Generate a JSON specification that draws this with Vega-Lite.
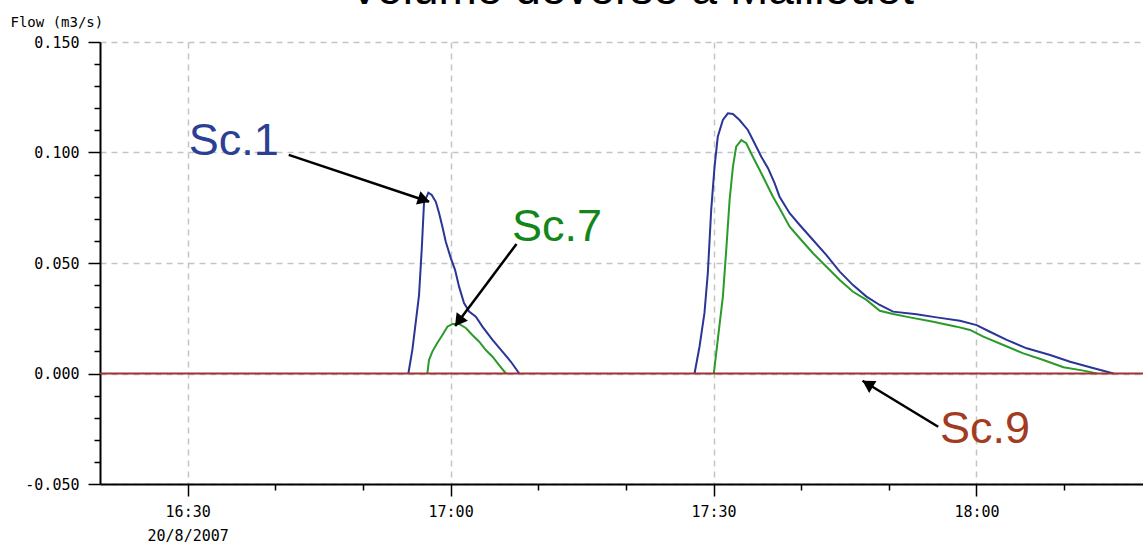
{
  "$schema": "https://vega.github.io/schema/vega-lite/v6.json",
  "width": 1043,
  "height": 442,
  "autosize": {"type": "none"},
  "padding": {"left": 100, "top": 42, "right": 0, "bottom": 62},
  "background": "white",
  "title": {"text": "Volume déversé à Maillouet", "font": "Liberation Sans", "fontSize": 46, "fontWeight": "normal", "color": "#000000", "anchor": "middle", "baseline": "alphabetic", "offset": -21, "dy": 14, "dx": 10},
  "config": {"view": {"stroke": null}},
  "datasets": {
    "flowdata": [
      {"t": "2007-08-20T16:55:11", "q": 0, "s": "Sc.1", "e": 1},
      {"t": "2007-08-20T16:55:38", "q": 0.0106, "s": "Sc.1", "e": 1},
      {"t": "2007-08-20T16:56:01", "q": 0.0229, "s": "Sc.1", "e": 1},
      {"t": "2007-08-20T16:56:24", "q": 0.0355, "s": "Sc.1", "e": 1},
      {"t": "2007-08-20T16:56:43", "q": 0.0568, "s": "Sc.1", "e": 1},
      {"t": "2007-08-20T16:56:58", "q": 0.0772, "s": "Sc.1", "e": 1},
      {"t": "2007-08-20T16:57:28", "q": 0.0818, "s": "Sc.1", "e": 1},
      {"t": "2007-08-20T16:57:51", "q": 0.0808, "s": "Sc.1", "e": 1},
      {"t": "2007-08-20T16:58:19", "q": 0.0777, "s": "Sc.1", "e": 1},
      {"t": "2007-08-20T16:58:41", "q": 0.0726, "s": "Sc.1", "e": 1},
      {"t": "2007-08-20T16:59:04", "q": 0.0664, "s": "Sc.1", "e": 1},
      {"t": "2007-08-20T16:59:27", "q": 0.0596, "s": "Sc.1", "e": 1},
      {"t": "2007-08-20T17:00:01", "q": 0.0523, "s": "Sc.1", "e": 1},
      {"t": "2007-08-20T17:00:31", "q": 0.0468, "s": "Sc.1", "e": 1},
      {"t": "2007-08-20T17:00:58", "q": 0.0393, "s": "Sc.1", "e": 1},
      {"t": "2007-08-20T17:01:32", "q": 0.0319, "s": "Sc.1", "e": 1},
      {"t": "2007-08-20T17:02:07", "q": 0.0280, "s": "Sc.1", "e": 1},
      {"t": "2007-08-20T17:02:53", "q": 0.0257, "s": "Sc.1", "e": 1},
      {"t": "2007-08-20T17:03:38", "q": 0.0212, "s": "Sc.1", "e": 1},
      {"t": "2007-08-20T17:04:47", "q": 0.0152, "s": "Sc.1", "e": 1},
      {"t": "2007-08-20T17:05:55", "q": 0.0099, "s": "Sc.1", "e": 1},
      {"t": "2007-08-20T17:06:53", "q": 0.0053, "s": "Sc.1", "e": 1},
      {"t": "2007-08-20T17:07:50", "q": 0, "s": "Sc.1", "e": 1},
      {"t": "2007-08-20T17:27:50", "q": 0, "s": "Sc.1", "e": 2},
      {"t": "2007-08-20T17:28:24", "q": 0.0121, "s": "Sc.1", "e": 2},
      {"t": "2007-08-20T17:28:58", "q": 0.0274, "s": "Sc.1", "e": 2},
      {"t": "2007-08-20T17:29:21", "q": 0.0455, "s": "Sc.1", "e": 2},
      {"t": "2007-08-20T17:29:44", "q": 0.0740, "s": "Sc.1", "e": 2},
      {"t": "2007-08-20T17:30:07", "q": 0.0936, "s": "Sc.1", "e": 2},
      {"t": "2007-08-20T17:30:29", "q": 0.1071, "s": "Sc.1", "e": 2},
      {"t": "2007-08-20T17:31:04", "q": 0.1147, "s": "Sc.1", "e": 2},
      {"t": "2007-08-20T17:31:38", "q": 0.1177, "s": "Sc.1", "e": 2},
      {"t": "2007-08-20T17:32:13", "q": 0.1174, "s": "Sc.1", "e": 2},
      {"t": "2007-08-20T17:32:58", "q": 0.1147, "s": "Sc.1", "e": 2},
      {"t": "2007-08-20T17:33:55", "q": 0.1102, "s": "Sc.1", "e": 2},
      {"t": "2007-08-20T17:34:41", "q": 0.1042, "s": "Sc.1", "e": 2},
      {"t": "2007-08-20T17:35:27", "q": 0.0981, "s": "Sc.1", "e": 2},
      {"t": "2007-08-20T17:36:13", "q": 0.0929, "s": "Sc.1", "e": 2},
      {"t": "2007-08-20T17:36:58", "q": 0.0861, "s": "Sc.1", "e": 2},
      {"t": "2007-08-20T17:37:32", "q": 0.0800, "s": "Sc.1", "e": 2},
      {"t": "2007-08-20T17:38:41", "q": 0.0725, "s": "Sc.1", "e": 2},
      {"t": "2007-08-20T17:39:50", "q": 0.0672, "s": "Sc.1", "e": 2},
      {"t": "2007-08-20T17:41:21", "q": 0.0604, "s": "Sc.1", "e": 2},
      {"t": "2007-08-20T17:42:53", "q": 0.0536, "s": "Sc.1", "e": 2},
      {"t": "2007-08-20T17:44:24", "q": 0.0461, "s": "Sc.1", "e": 2},
      {"t": "2007-08-20T17:45:55", "q": 0.0400, "s": "Sc.1", "e": 2},
      {"t": "2007-08-20T17:47:27", "q": 0.0348, "s": "Sc.1", "e": 2},
      {"t": "2007-08-20T17:48:58", "q": 0.0310, "s": "Sc.1", "e": 2},
      {"t": "2007-08-20T17:50:29", "q": 0.0280, "s": "Sc.1", "e": 2},
      {"t": "2007-08-20T17:53:10", "q": 0.0268, "s": "Sc.1", "e": 2},
      {"t": "2007-08-20T17:55:27", "q": 0.0254, "s": "Sc.1", "e": 2},
      {"t": "2007-08-20T17:58:07", "q": 0.0239, "s": "Sc.1", "e": 2},
      {"t": "2007-08-20T18:00:01", "q": 0.0219, "s": "Sc.1", "e": 2},
      {"t": "2007-08-20T18:01:32", "q": 0.0189, "s": "Sc.1", "e": 2},
      {"t": "2007-08-20T18:03:27", "q": 0.0152, "s": "Sc.1", "e": 2},
      {"t": "2007-08-20T18:05:44", "q": 0.0114, "s": "Sc.1", "e": 2},
      {"t": "2007-08-20T18:08:24", "q": 0.0084, "s": "Sc.1", "e": 2},
      {"t": "2007-08-20T18:10:41", "q": 0.0053, "s": "Sc.1", "e": 2},
      {"t": "2007-08-20T18:12:58", "q": 0.0028, "s": "Sc.1", "e": 2},
      {"t": "2007-08-20T18:15:38", "q": 0, "s": "Sc.1", "e": 2},
      {"t": "2007-08-20T16:57:21", "q": 0, "s": "Sc.7", "e": 1},
      {"t": "2007-08-20T16:57:32", "q": 0.0061, "s": "Sc.7", "e": 1},
      {"t": "2007-08-20T16:57:55", "q": 0.0099, "s": "Sc.7", "e": 1},
      {"t": "2007-08-20T16:58:29", "q": 0.0138, "s": "Sc.7", "e": 1},
      {"t": "2007-08-20T16:59:04", "q": 0.0174, "s": "Sc.7", "e": 1},
      {"t": "2007-08-20T16:59:38", "q": 0.0212, "s": "Sc.7", "e": 1},
      {"t": "2007-08-20T17:00:13", "q": 0.0224, "s": "Sc.7", "e": 1},
      {"t": "2007-08-20T17:00:58", "q": 0.0224, "s": "Sc.7", "e": 1},
      {"t": "2007-08-20T17:01:44", "q": 0.0206, "s": "Sc.7", "e": 1},
      {"t": "2007-08-20T17:02:29", "q": 0.0174, "s": "Sc.7", "e": 1},
      {"t": "2007-08-20T17:03:16", "q": 0.0144, "s": "Sc.7", "e": 1},
      {"t": "2007-08-20T17:04:01", "q": 0.0106, "s": "Sc.7", "e": 1},
      {"t": "2007-08-20T17:04:47", "q": 0.0076, "s": "Sc.7", "e": 1},
      {"t": "2007-08-20T17:05:32", "q": 0.0038, "s": "Sc.7", "e": 1},
      {"t": "2007-08-20T17:06:19", "q": 0, "s": "Sc.7", "e": 1},
      {"t": "2007-08-20T17:30:02", "q": 0, "s": "Sc.7", "e": 2},
      {"t": "2007-08-20T17:30:29", "q": 0.0152, "s": "Sc.7", "e": 2},
      {"t": "2007-08-20T17:31:04", "q": 0.0348, "s": "Sc.7", "e": 2},
      {"t": "2007-08-20T17:31:27", "q": 0.0559, "s": "Sc.7", "e": 2},
      {"t": "2007-08-20T17:31:50", "q": 0.0785, "s": "Sc.7", "e": 2},
      {"t": "2007-08-20T17:32:13", "q": 0.0936, "s": "Sc.7", "e": 2},
      {"t": "2007-08-20T17:32:35", "q": 0.1026, "s": "Sc.7", "e": 2},
      {"t": "2007-08-20T17:33:10", "q": 0.1056, "s": "Sc.7", "e": 2},
      {"t": "2007-08-20T17:33:44", "q": 0.1042, "s": "Sc.7", "e": 2},
      {"t": "2007-08-20T17:34:29", "q": 0.0981, "s": "Sc.7", "e": 2},
      {"t": "2007-08-20T17:35:16", "q": 0.0921, "s": "Sc.7", "e": 2},
      {"t": "2007-08-20T17:36:01", "q": 0.0861, "s": "Sc.7", "e": 2},
      {"t": "2007-08-20T17:36:47", "q": 0.0800, "s": "Sc.7", "e": 2},
      {"t": "2007-08-20T17:37:32", "q": 0.0748, "s": "Sc.7", "e": 2},
      {"t": "2007-08-20T17:38:41", "q": 0.0664, "s": "Sc.7", "e": 2},
      {"t": "2007-08-20T17:39:50", "q": 0.0612, "s": "Sc.7", "e": 2},
      {"t": "2007-08-20T17:41:21", "q": 0.0544, "s": "Sc.7", "e": 2},
      {"t": "2007-08-20T17:42:53", "q": 0.0483, "s": "Sc.7", "e": 2},
      {"t": "2007-08-20T17:44:24", "q": 0.0423, "s": "Sc.7", "e": 2},
      {"t": "2007-08-20T17:45:55", "q": 0.0370, "s": "Sc.7", "e": 2},
      {"t": "2007-08-20T17:47:27", "q": 0.0333, "s": "Sc.7", "e": 2},
      {"t": "2007-08-20T17:48:58", "q": 0.0284, "s": "Sc.7", "e": 2},
      {"t": "2007-08-20T17:50:29", "q": 0.0269, "s": "Sc.7", "e": 2},
      {"t": "2007-08-20T17:52:24", "q": 0.0254, "s": "Sc.7", "e": 2},
      {"t": "2007-08-20T17:55:04", "q": 0.0234, "s": "Sc.7", "e": 2},
      {"t": "2007-08-20T17:57:44", "q": 0.0212, "s": "Sc.7", "e": 2},
      {"t": "2007-08-20T17:59:16", "q": 0.0197, "s": "Sc.7", "e": 2},
      {"t": "2007-08-20T18:00:47", "q": 0.0167, "s": "Sc.7", "e": 2},
      {"t": "2007-08-20T18:03:04", "q": 0.0129, "s": "Sc.7", "e": 2},
      {"t": "2007-08-20T18:05:21", "q": 0.0091, "s": "Sc.7", "e": 2},
      {"t": "2007-08-20T18:07:38", "q": 0.0061, "s": "Sc.7", "e": 2},
      {"t": "2007-08-20T18:09:55", "q": 0.0028, "s": "Sc.7", "e": 2},
      {"t": "2007-08-20T18:12:13", "q": 0.0013, "s": "Sc.7", "e": 2},
      {"t": "2007-08-20T18:13:44", "q": 0, "s": "Sc.7", "e": 2},
      {"t": "2007-08-20T16:20:00", "q": 0, "s": "Sc.9", "e": 1},
      {"t": "2007-08-20T18:19:00", "q": 0, "s": "Sc.9", "e": 1}
    ],
    "labeldata": [
      {"label": "Sc.1", "t": "2007-08-20T16:30:07", "v": 0.0989},
      {"label": "Sc.7", "t": "2007-08-20T17:07:00", "v": 0.0600},
      {"label": "Sc.9", "t": "2007-08-20T17:55:50", "v": -0.0313}
    ],
    "arrowdata": [
      {"label": "Sc.1", "t": "2007-08-20T16:41:32", "v": 0.0989, "t2": "2007-08-20T16:57:32", "v2": 0.0777, "th": "2007-08-20T16:56:58", "vh": 0.0786},
      {"label": "Sc.7", "t": "2007-08-20T17:07:31", "v": 0.0586, "t2": "2007-08-20T17:00:31", "v2": 0.0215, "th": "2007-08-20T17:00:55", "vh": 0.0236},
      {"label": "Sc.9", "t": "2007-08-20T17:55:38", "v": -0.0241, "t2": "2007-08-20T17:47:00", "v2": -0.0033, "th": "2007-08-20T17:47:35", "vh": -0.0047}
    ]
  },
  "layer": [
    {
      "data": {"name": "flowdata"},
      "transform": [{"filter": "datum.s != 'Sc.9'"}],
      "mark": {"type": "line", "strokeWidth": 2},
      "encoding": {
        "x": {"field": "t", "type": "temporal",
          "scale": {"domain": [{"year": 2007, "month": 8, "date": 20, "hours": 16, "minutes": 20}, {"year": 2007, "month": 8, "date": 20, "hours": 18, "minutes": 19}], "nice": false},
          "axis": {"orient": "bottom", "title": null,
            "values": [{"year": 2007, "month": 8, "date": 20, "hours": 16, "minutes": 30}, {"year": 2007, "month": 8, "date": 20, "hours": 17, "minutes": 0}, {"year": 2007, "month": 8, "date": 20, "hours": 17, "minutes": 30}, {"year": 2007, "month": 8, "date": 20, "hours": 18, "minutes": 0}],
            "labelExpr": "timeFormat(datum.value, '%H:%M') == '16:30' ? ['16:30', '20/8/2007'] : timeFormat(datum.value, '%H:%M')",
            "grid": true, "gridDash": [6, 5], "gridColor": "#c4c4c4", "gridWidth": 1.5,
            "tickSize": 12, "tickColor": "#000000", "tickWidth": 1.5,
            "domainColor": "#000000", "domainWidth": 2,
            "labelFont": "DejaVu Sans Mono", "labelFontSize": 15, "labelColor": "#000000",
            "labelPadding": 8, "labelLineHeight": 24, "labelBaseline": "top", "labelFlush": false, "labelOverlap": false}},
        "y": {"field": "q", "type": "quantitative",
          "scale": {"domain": [-0.05, 0.15], "nice": false, "zero": false},
          "axis": {"orient": "left", "values": [-0.05, 0, 0.05, 0.1, 0.15],
            "labelExpr": "datum.value < 0 ? '-' + format(-datum.value, '.3f') : format(datum.value, '.3f')",
            "grid": true, "gridDash": [6, 5], "gridColor": "#c4c4c4", "gridWidth": 1.5,
            "tickSize": 12, "tickColor": "#000000", "tickWidth": 1.5,
            "domainColor": "#000000", "domainWidth": 2,
            "labelFont": "DejaVu Sans Mono", "labelFontSize": 15, "labelColor": "#000000", "labelPadding": 9,
            "title": "Flow (m3/s)", "titleAngle": 0, "titleX": -90, "titleY": -16, "titleAlign": "left", "titleBaseline": "alphabetic",
            "titleFont": "DejaVu Sans Mono", "titleFontSize": 14, "titleFontWeight": "normal", "titleColor": "#000000"}},
        "color": {"field": "s", "type": "nominal", "legend": null,
          "scale": {"domain": ["Sc.1", "Sc.7", "Sc.9"], "range": ["#2a3596", "#2a9a2a", "#a03434"]}},
        "detail": {"field": "e", "type": "nominal"}
      }
    },
    {
      "data": {"name": "flowdata"},
      "transform": [{"filter": "datum.s == 'Sc.9'"}],
      "mark": {"type": "line", "strokeWidth": 2, "color": "#a03434"},
      "encoding": {
        "x": {"field": "t", "type": "temporal", "axis": null},
        "y": {"field": "q", "type": "quantitative", "axis": null}
      }
    },
    {
      "data": {"name": "arrowdata"},
      "mark": {"type": "rule", "color": "#000000", "strokeWidth": 2.5},
      "encoding": {
        "x": {"field": "t", "type": "temporal", "axis": null},
        "y": {"field": "v", "type": "quantitative", "axis": null},
        "x2": {"field": "t2"},
        "y2": {"field": "v2"}
      }
    },
    {
      "data": {"name": "arrowdata"},
      "transform": [{"filter": "datum.label == 'Sc.1'"}],
      "mark": {"type": "point", "shape": "triangle-up", "filled": true, "color": "#000000", "opacity": 1, "size": 196, "angle": 108.4},
      "encoding": {
        "x": {"field": "th", "type": "temporal", "axis": null},
        "y": {"field": "vh", "type": "quantitative", "axis": null}
      }
    },
    {
      "data": {"name": "arrowdata"},
      "transform": [{"filter": "datum.label == 'Sc.7'"}],
      "mark": {"type": "point", "shape": "triangle-up", "filled": true, "color": "#000000", "opacity": 1, "size": 196, "angle": 216.8},
      "encoding": {
        "x": {"field": "th", "type": "temporal", "axis": null},
        "y": {"field": "vh", "type": "quantitative", "axis": null}
      }
    },
    {
      "data": {"name": "arrowdata"},
      "transform": [{"filter": "datum.label == 'Sc.9'"}],
      "mark": {"type": "point", "shape": "triangle-up", "filled": true, "color": "#000000", "opacity": 1, "size": 196, "angle": 301.3},
      "encoding": {
        "x": {"field": "th", "type": "temporal", "axis": null},
        "y": {"field": "vh", "type": "quantitative", "axis": null}
      }
    },
    {
      "data": {"name": "labeldata"},
      "mark": {"type": "text", "font": "Liberation Sans", "fontSize": 45, "align": "left", "baseline": "alphabetic"},
      "encoding": {
        "x": {"field": "t", "type": "temporal",
          "axis": {"orient": "bottom", "title": null,
            "values": [{"year": 2007, "month": 8, "date": 20, "hours": 16, "minutes": 40}, {"year": 2007, "month": 8, "date": 20, "hours": 16, "minutes": 50}, {"year": 2007, "month": 8, "date": 20, "hours": 17, "minutes": 10}, {"year": 2007, "month": 8, "date": 20, "hours": 17, "minutes": 20}, {"year": 2007, "month": 8, "date": 20, "hours": 17, "minutes": 40}, {"year": 2007, "month": 8, "date": 20, "hours": 17, "minutes": 50}, {"year": 2007, "month": 8, "date": 20, "hours": 18, "minutes": 10}],
            "labels": false, "grid": false, "domain": false, "tickSize": 6, "tickColor": "#000000", "tickWidth": 1.5}},
        "y": {"field": "v", "type": "quantitative",
          "axis": {"orient": "left", "title": null, "values": [-0.04, -0.03, -0.02, -0.01, 0.01, 0.02, 0.03, 0.04, 0.06, 0.07, 0.08, 0.09, 0.11, 0.12, 0.13, 0.14],
            "labels": false, "grid": false, "domain": false, "tickSize": 6, "tickColor": "#000000", "tickWidth": 1.5}},
        "text": {"field": "label"},
        "color": {"field": "label", "type": "nominal", "legend": null,
          "scale": {"domain": ["Sc.1", "Sc.7", "Sc.9"], "range": ["#2b3f95", "#13861a", "#a33b20"]}}
      }
    }
  ],
  "resolve": {"axis": {"x": "independent", "y": "independent"}, "scale": {"color": "independent"}}
}
